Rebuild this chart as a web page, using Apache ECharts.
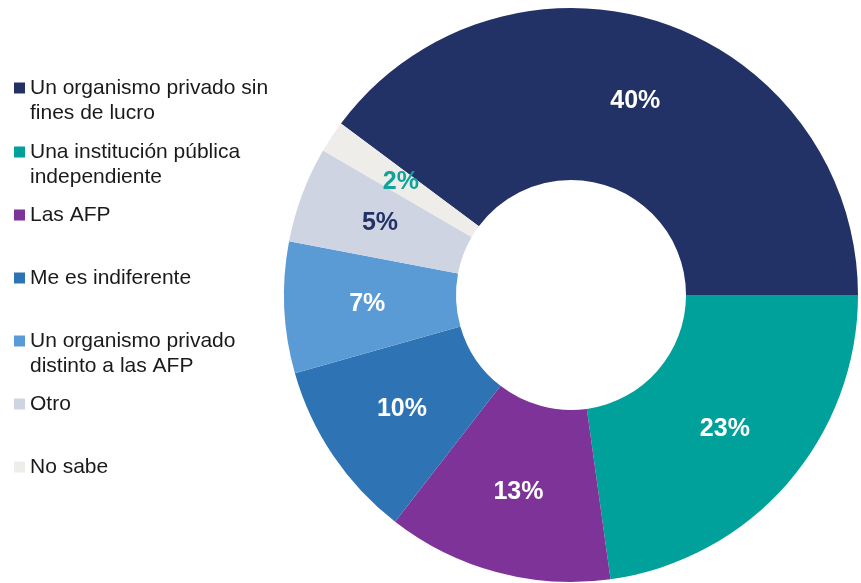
<!DOCTYPE html>
<html>
<head>
<meta charset="utf-8">
<script src="https://cdn.jsdelivr.net/npm/echarts@6/dist/echarts.min.js"></script>
<style>
	html, body { margin: 0; padding: 0; background: #fff; }
	#chart { width: 861px; height: 583px; }
</style>
</head>
<body>
<div id="chart"></div>
<script>
// datos del gráfico
const categories = [
	"Un organismo privado sin fines de lucro",
	"Una institución pública independiente",
	"Las AFP",
	"Me es indiferente",
	"Un organismo privado distinto a las AFP",
	"Otro",
	"No sabe",
];
// texto de la leyenda (con salto de línea como en el original)
const legendLines = [
	["Un organismo privado sin", "fines de lucro"],
	["Una institución pública", "independiente"],
	["Las AFP"],
	["Me es indiferente"],
	["Un organismo privado", "distinto a las AFP"],
	["Otro"],
	["No sabe"],
];
// porcentajes estimados del gráfico (las etiquetas muestran el valor redondeado)
const values = [39.8, 22.8, 12.7, 10.1, 7.4, 5.4, 1.8];
const colors = ["#233266", "#00A19A", "#7E3398", "#2E74B5", "#5B9BD5", "#CED4E1", "#EEEDEA"];
const labelColors = ["#fff", "#fff", "#fff", "#fff", "#fff", "#233266", "#0FA39B"];

const chart = echarts.init(document.getElementById("chart"));

const LH = 25;
const firstLineY = [88, 152, 215, 278, 341, 404, 467];

// una leyenda por elemento para fijar la posición vertical de cada uno
// (línea vacía delante en las de dos líneas para que el icono quede en la primera)
const legends = categories.map((name, i) => {
	const lines = legendLines[i];
	const twoLines = lines.length > 1;
	return {
		left: 14,
		top: firstLineY[i] - (twoLines ? LH * 1.5 : LH / 2),
		padding: 0,
		orient: "vertical",
		icon: "rect",
		itemWidth: 11,
		itemHeight: 11,
		selectedMode: false,
		data: [name],
		formatter: () => (twoLines ? "\n" : "") + lines.join("\n"),
		textStyle: {
			fontFamily: "Liberation Sans, Arial, sans-serif",
			fontSize: 21,
			lineHeight: LH,
			color: "#1a1a1a",
		},
	};
});

const total = values.reduce((a, b) => a + b, 0);

const option = {
	animation: false,
	color: colors,
	legend: legends,
	series: [
		{
			type: "pie",
			center: [571, 295],
			radius: [115, 287],
			// el primer sector termina justo en la horizontal derecha
			startAngle: (values[0] / total) * 360,
			clockwise: true,
			silent: true,
			label: {
				show: true,
				position: "inside",
				formatter: (p) => Math.round(p.value) + "%",
				fontFamily: "Liberation Sans, Arial, sans-serif",
				fontSize: 25,
				fontWeight: "bold",
				padding: [5, 0, 0, 0],
			},
			labelLine: { show: false },
			data: categories.map((name, i) => ({
				name: name,
				value: values[i],
				label: { color: labelColors[i] },
			})),
		},
	],
};
chart.setOption(option, true);
</script>
</body>
</html>
